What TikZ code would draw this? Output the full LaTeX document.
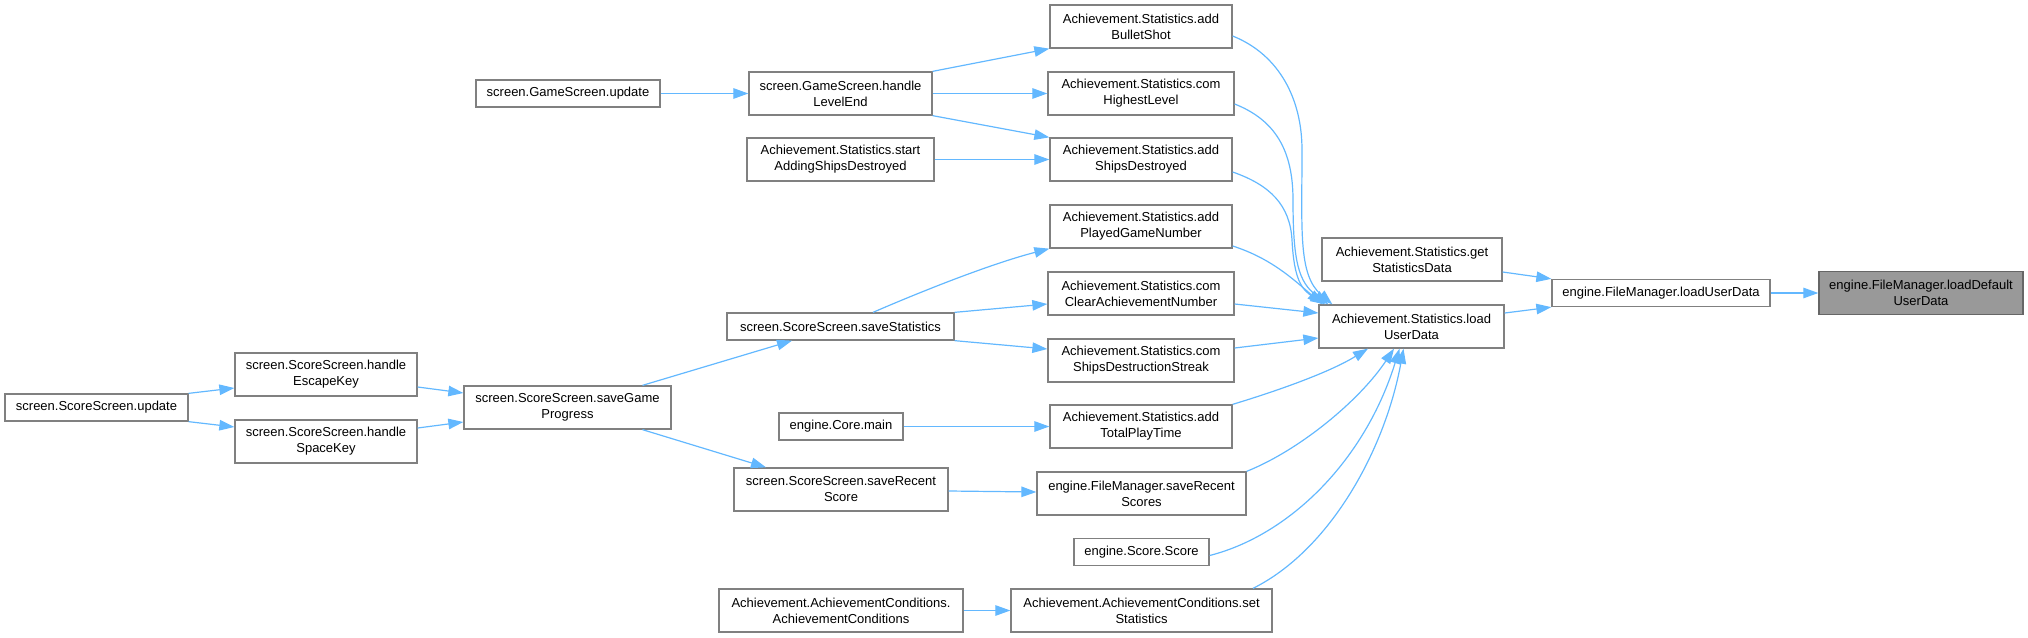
\documentclass[tikz,border=0pt]{standalone}
\usepackage{fontspec}
\setmainfont{Liberation Sans}
\usetikzlibrary{arrows.meta,calc}
\definecolor{edgeblue}{HTML}{63B8FF}
\definecolor{boxgray}{HTML}{808080}
\definecolor{hlfill}{HTML}{999999}
\definecolor{hlborder}{HTML}{666666}
\begin{document}
\begin{tikzpicture}[x=1pt,y=-1pt,
  box/.style={draw=boxgray,line width=1.3pt,fill=white,rectangle,inner sep=0pt,align=center,
    font=\fontsize{13}{16}\selectfont},
  one/.style={box,minimum height=27pt},
  two/.style={box,minimum height=43pt},
  hl/.style={two,fill=hlfill,draw=hlborder},
  call/.style={draw=edgeblue,line width=1.2pt,-{Triangle[length=15pt,width=10.5pt]}}
]
\useasboundingbox (0,0) rectangle (2028,637);
% nodes
\node[one,minimum width=184pt] (gsu) at (568,93.5) {screen.GameScreen.update};
\node[two,minimum width=183pt] (hle) at (840.5,93.5) {screen.GameScreen.handle\\LevelEnd};
\node[two,minimum width=187pt] (sasd) at (840.5,159.5) {Achievement.Statistics.start\\AddingShipsDestroyed};
\node[two,minimum width=182pt] (abs) at (1141,26.5) {Achievement.Statistics.add\\BulletShot};
\node[two,minimum width=186pt] (chl) at (1141,93.5) {Achievement.Statistics.com\\HighestLevel};
\node[two,minimum width=182pt] (asd) at (1141,159.5) {Achievement.Statistics.add\\ShipsDestroyed};
\node[two,minimum width=182pt] (apgn) at (1141,226.5) {Achievement.Statistics.add\\PlayedGameNumber};
\node[two,minimum width=186pt] (ccan) at (1141,293.5) {Achievement.Statistics.com\\ClearAchievementNumber};
\node[two,minimum width=186pt] (csds) at (1141,360.5) {Achievement.Statistics.com\\ShipsDestructionStreak};
\node[two,minimum width=182pt] (atpt) at (1141,426.5) {Achievement.Statistics.add\\TotalPlayTime};
\node[two,minimum width=209pt] (fmsrs) at (1141.5,493.5) {engine.FileManager.saveRecent\\Scores};
\node[one,minimum width=135pt] (ss) at (1141.5,552) {engine.Score.Score};
\node[two,minimum width=261pt] (setst) at (1141.5,610.5) {Achievement.AchievementConditions.set\\Statistics};
\node[two,minimum width=244pt] (acac) at (841,610.5) {Achievement.AchievementConditions.\\AchievementConditions};
\node[one,minimum width=227pt] (ssst) at (840.5,326.5) {screen.ScoreScreen.saveStatistics};
\node[one,minimum width=124pt] (cm) at (841,426.5) {engine.Core.main};
\node[two,minimum width=214pt] (ssrs) at (841,489.5) {screen.ScoreScreen.saveRecent\\Score};
\node[two,minimum width=207pt] (sgp) at (567.5,407.5) {screen.ScoreScreen.saveGame\\Progress};
\node[two,minimum width=182pt] (hek) at (326,374.5) {screen.ScoreScreen.handle\\EscapeKey};
\node[two,minimum width=182pt] (hsk) at (326,441.5) {screen.ScoreScreen.handle\\SpaceKey};
\node[one,minimum width=183pt] (ssu) at (96.5,407.5) {screen.ScoreScreen.update};
\node[two,minimum width=180pt] (gsd) at (1412,259.5) {Achievement.Statistics.get\\StatisticsData};
\node[two,minimum width=185pt] (slud) at (1411.5,326.5) {Achievement.Statistics.load\\UserData};
\node[one,minimum width=218pt] (fmlud) at (1661,293) {engine.FileManager.loadUserData};
\node[hl,minimum width=204pt] (ldud) at (1921,293) {engine.FileManager.loadDefault\\UserData};
% edges
\draw[call] (gsu.east) -- (hle.west);
\draw[call] (hle.north east) -- (abs.south west);
\draw[call] (hle.east) -- (chl.west);
\draw[call] (hle.south east) -- (asd.north west);
\draw[call] (sasd.east) -- (asd.west);
\draw[call] ([yshift=-9.5pt]abs.east) .. controls (1280,55) and (1302,100) .. (1302,150)
  .. controls (1302,230) and (1298,275) .. ([xshift=14pt]slud.north west);
\draw[call] ([yshift=-10.5pt]chl.east) .. controls (1275,120) and (1293,150) .. (1293,200)
  .. controls (1293,260) and (1298,282) .. ([xshift=10pt]slud.north west);
\draw[call] ([yshift=-12.5pt]asd.east) .. controls (1270,185) and (1290,205) .. (1292,240)
  .. controls (1294,280) and (1302,290) .. ([xshift=7pt]slud.north west);
\draw[call] ([yshift=-19.5pt]apgn.east) .. controls (1270,258) and (1292,278) .. ([xshift=4pt]slud.north west);
\draw[call] ([yshift=-10.5pt]ccan.east) -- ([yshift=13.5pt]slud.west);
\draw[call] ([yshift=12.5pt]csds.east) -- ([yshift=-11.5pt]slud.west);
\draw[call] (atpt.north east) .. controls (1280,390) and (1330,372) .. ([xshift=-43.5pt]slud.south);
\draw[call] (fmsrs.north east) .. controls (1300,450) and (1360,400) .. ([xshift=-17.5pt]slud.south);
\draw[call] ([yshift=-3.5pt]ss.east) .. controls (1290,535) and (1365,460) .. ([xshift=-12pt]slud.south);
\draw[call] ([xshift=111.5pt]setst.north) .. controls (1330,550) and (1385,450) .. ([xshift=-8pt]slud.south);
\draw[call] ([yshift=-12.5pt]gsd.east) -- (fmlud.north west);
\draw[call] ([yshift=13.5pt]slud.east) -- (fmlud.south west);
\draw[call] (fmlud.east) -- (ldud.west);
\draw[call] (ssu.north east) -- ([yshift=-13.5pt]hek.west);
\draw[call] (ssu.south east) -- ([yshift=14.5pt]hsk.west);
\draw[call] ([yshift=-12.5pt]hek.east) -- ([yshift=14.5pt]sgp.west);
\draw[call] ([yshift=13.5pt]hsk.east) -- ([yshift=-14.5pt]sgp.west);
\draw[call] ([xshift=75pt]sgp.north) -- ([xshift=-48.5pt]ssst.south);
\draw[call] ([xshift=75pt]sgp.south) -- ([xshift=-75pt]ssrs.north);
\draw[call] ([xshift=32.5pt]ssst.north) .. controls (920,292) and (990,264) .. (apgn.south west);
\draw[call] (ssst.north east) -- ([yshift=-10.5pt]ccan.west);
\draw[call] (ssst.south east) -- ([yshift=11.5pt]csds.west);
\draw[call] (cm.east) -- (atpt.west);
\draw[call] ([yshift=-1.5pt]ssrs.east) -- ([yshift=1.5pt]fmsrs.west);
\draw[call] (acac.east) -- (setst.west);
\end{tikzpicture}
\end{document}
